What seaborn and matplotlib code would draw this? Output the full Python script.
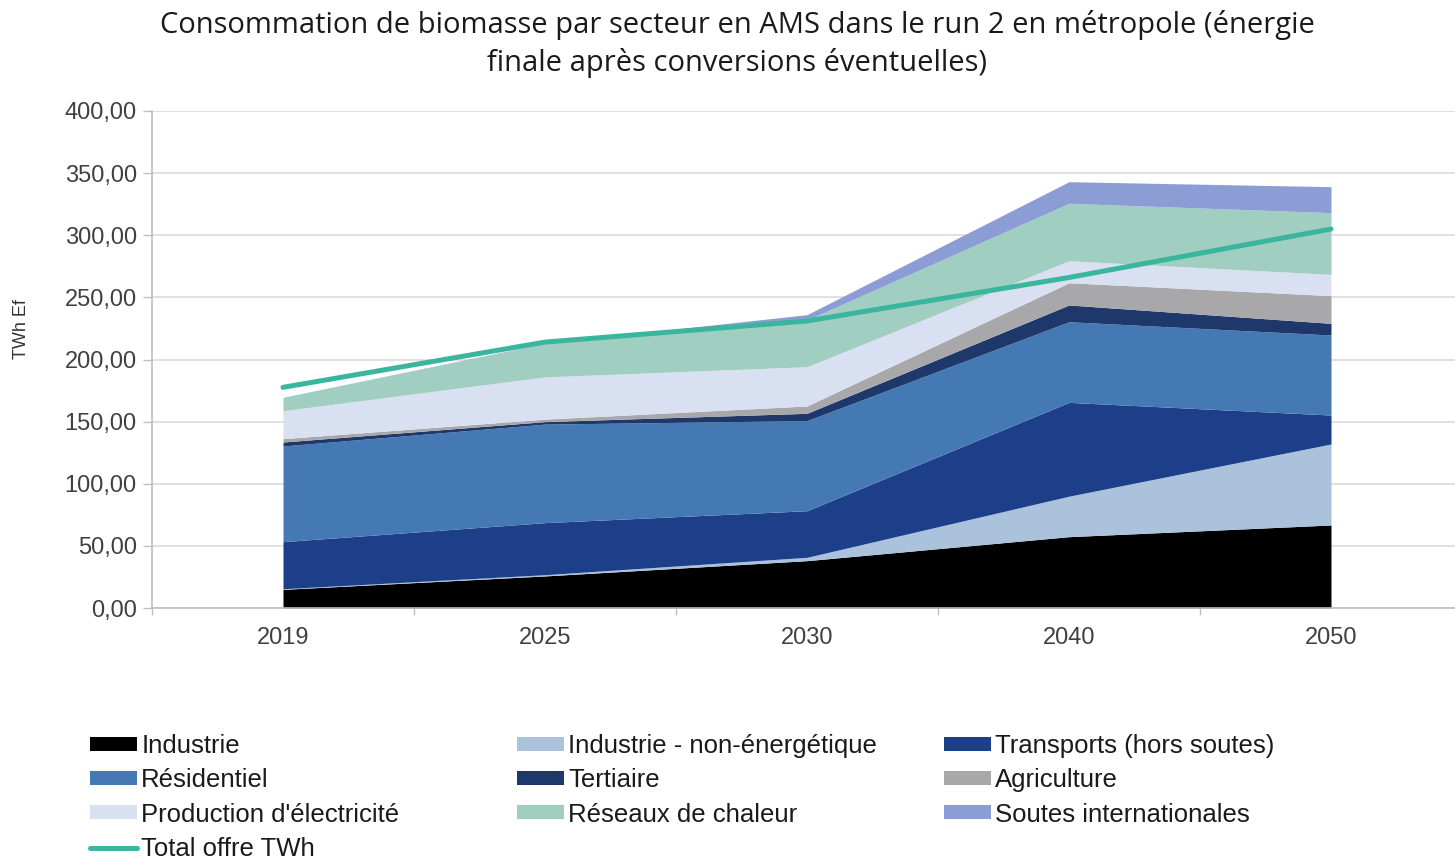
"""Biomasse par secteur (AMS, run 2) - stacked areas + total supply line."""

import matplotlib.pyplot as plt
import numpy as np
import seaborn as sns
from matplotlib.lines import Line2D
from matplotlib.patches import Patch
from matplotlib.ticker import FuncFormatter, FixedLocator

sns.set_theme(style="white")
plt.rcParams["font.family"] = ["Liberation Sans", "DejaVu Sans"]

# %% data (TWh Ef)
years = ["2019", "2025", "2030", "2040", "2050"]
industrie = [15.0, 25.8, 38.1, 57.4, 66.8]
industrie_non_energetique = [0.5, 1.0, 2.7, 32.6, 65.2]
transports = [37.9, 41.9, 37.5, 75.5, 23.3]
residentiel = [77.0, 79.3, 72.5, 64.9, 64.4]
tertiaire = [3.2, 2.0, 5.9, 13.5, 9.4]
agriculture = [2.7, 2.0, 5.9, 17.9, 22.3]
production_electricite = [22.5, 34.0, 31.6, 17.7, 17.1]
reseaux_chaleur = [10.8, 26.5, 37.6, 46.2, 49.7]
soutes_internationales = [0.0, 0.5, 4.3, 17.4, 20.9]
total_offre = [177.6, 214.0, 231.0, 266.0, 305.0]

labels = ["Industrie", "Industrie - non-énergétique", "Transports (hors soutes)",
          "Résidentiel", "Tertiaire", "Agriculture",
          "Production d'électricité", "Réseaux de chaleur", "Soutes internationales"]
colors = ["#000000", "#abc2dc", "#1d3f8a", "#4479b4", "#1f386b", "#a8a8aa",
          "#d9e0f1", "#a0cec0", "#8b9dd4"]
line_color = "#3bb69e"
series = [industrie, industrie_non_energetique, transports, residentiel, tertiaire,
          agriculture, production_electricite, reseaux_chaleur, soutes_internationales]

# %% figure
W, H = 1455, 858
fig = plt.figure(figsize=(W / 100, H / 100), dpi=100)
ax = fig.add_axes([152 / W, (H - 608) / H, (1462 - 152) / W, 497 / H])

x = np.arange(len(years))
ax.stackplot(x, *series, colors=colors, labels=labels, linewidth=0, zorder=2)
sns.lineplot(x=x, y=total_offre, ax=ax, color=line_color, linewidth=3.6,
             solid_capstyle="round", zorder=3, label="Total offre TWh", legend=False)

ax.set_xlim(-0.5, len(years) - 0.5)
ax.set_ylim(0, 400)
ax.set_yticks(np.arange(0, 401, 50))
ax.yaxis.set_major_formatter(FuncFormatter(lambda v, _: f"{v:.2f}".replace(".", ",")))
ax.set_xticks(x)
ax.set_xticklabels(years)
ax.xaxis.set_minor_locator(FixedLocator(np.arange(-0.5, len(years), 1.0)))

ax.grid(axis="y", color="#d9d9d9", linewidth=1.1, zorder=0)
ax.set_axisbelow(True)
for side in ["top", "right"]:
    ax.spines[side].set_visible(False)
for side in ["left", "bottom"]:
    ax.spines[side].set_color("#bfbfbf")
    ax.spines[side].set_linewidth(1.2)
    ax.spines[side].set_zorder(4)

ax.tick_params(axis="y", which="major", left=True, length=6.5, width=1.0,
               color="#bfbfbf", pad=4.5, labelsize=17, labelcolor="#404040")
ax.tick_params(axis="x", which="major", bottom=True, length=0, pad=14,
               labelsize=17, labelcolor="#404040")
ax.tick_params(axis="x", which="minor", bottom=True, length=5, width=1.0,
               color="#bfbfbf")
ax.set_xlabel("")
ax.set_ylabel("")

fig.text(22 / W, 1 - 329 / H, "TWh Ef", rotation=90, ha="center", va="center",
         fontsize=13, color="#333333")

fig.text(737 / W, 1 - 44 / H,
         "Consommation de biomasse par secteur en AMS dans le run 2 en métropole (énergie\n"
         "finale après conversions éventuelles)",
         ha="center", va="center", fontsize=21, color="#1a1a1a",
         family=["Open Sans", "DejaVu Sans"], linespacing=1.39)

# %% legend, three columns filled row by row (Excel style)
handles = [Patch(facecolor=c, edgecolor="none") for c in colors]
handles.append(Line2D([0], [0], color=line_color, linewidth=3.6))
all_labels = labels + ["Total offre TWh"]
columns = [[0, 3, 6, 9], [1, 4, 7], [2, 5, 8]]
col_x = [90, 517, 944]
for idx, cx in zip(columns, col_x):
    fig.legend([handles[i] for i in idx], [all_labels[i] for i in idx],
               loc="upper left", bbox_to_anchor=(cx / W, 1 - 734 / H),
               frameon=False, fontsize=18.5, borderpad=0, borderaxespad=0,
               handlelength=1.83, handleheight=0.47, handletextpad=0.16,
               labelspacing=0.40, labelcolor="#1a1a1a")

fig.savefig("out.png", dpi=100)
